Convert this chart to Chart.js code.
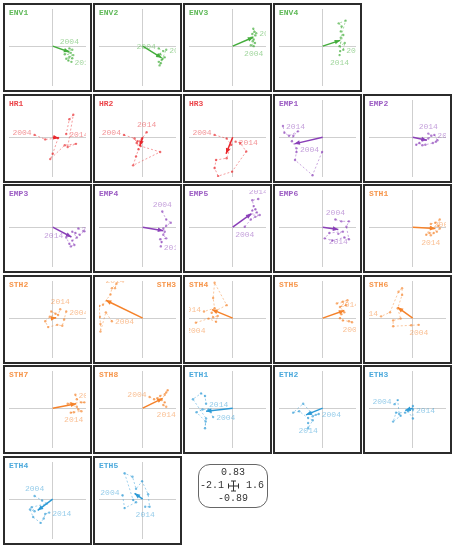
<!DOCTYPE html>
<html>
<head>
<meta charset="utf-8">
<script src="https://cdn.jsdelivr.net/npm/chart.js@4.4.0/dist/chart.umd.min.js"></script>
<style>
  body { margin: 0; background: #fff; width: 456px; height: 550px; position: relative; overflow: hidden; }
  .panel { position: absolute; width: 85px; height: 85px; border: 2px solid #2b2b2b; }
  .panel canvas { position: absolute; left: 0; top: 0; }
  .panel .name { position: absolute; top: 3px; left: 4px; font: bold 8px "Liberation Mono", monospace; }
  .panel .name.right { left: auto; right: 4px; }
  #key { position: absolute; left: 198px; top: 464px; width: 68px; height: 42px; border: 1px solid #666;
         border-radius: 12px; font: 10px "Liberation Mono", monospace; color: #333; }
  #key div { position: absolute; white-space: nowrap; }
</style>
</head>
<body>
<div id="grid"></div>
<div id="key">
  <div style="left:0;right:0;top:2px;text-align:center">0.83</div>
  <div style="left:1px;top:15px">-2.1</div>
  <div style="right:3px;top:15px">1.6</div>
  <div style="left:0;right:0;top:28px;text-align:center">-0.89</div>
  <svg style="position:absolute;left:29px;top:15px" width="11" height="12" viewBox="0 0 11 12">
    <path d="M0.5 3.5v5M10.5 3.5v5M0.5 6h10M5.5 1v10M3 1h5M3 11h5" stroke="#333" stroke-width="1" fill="none"/>
  </svg>
</div>
<script>
// axis range (from the key box)
const xMin = -2.1, xMax = 1.6, yMin = -0.89, yMax = 0.83;
const years = ['2004', '2014'];

const names = ['ENV1','ENV2','ENV3','ENV4',null,
  'HR1','HR2','HR3','EMP1','EMP2',
  'EMP3','EMP4','EMP5','EMP6','STH1',
  'STH2','STH3','STH4','STH5','STH6',
  'STH7','STH8','ETH1','ETH2','ETH3',
  'ETH4','ETH5'];

const colors = { ENV: '#44ad3c', HR: '#e8262b', EMP: '#8a3fb8', STH: '#f5822a', ETH: '#2c9ad6' };

// yearly positions 2004..2014
const xs = {
  ENV1: [0.80,0.94,0.72,0.87,0.58,0.99,0.80,0.65,0.94,0.75,0.90],
  ENV2: [0.77,0.99,0.70,0.84,1.06,0.96,0.91,0.77,0.87,0.81,1.13],
  ENV3: [1.01,0.87,1.07,0.96,1.01,0.90,1.09,0.94,1.04,0.99,1.13],
  ENV4: [0.99,1.06,0.81,0.99,0.87,0.91,0.77,1.10,0.87,0.84,0.81],
  HR1:  [-0.87,-0.36,0.26,0.00,-0.12,0.58,1.12,0.72,0.99,0.80,0.65],
  HR2:  [-0.90,-0.39,-0.29,-0.10,0.84,-0.46,-0.32,-0.20,-0.25,-0.03,0.19],
  HR3:  [-0.87,-0.29,-0.07,-0.29,-0.80,-0.87,-0.70,-0.03,0.65,0.36,0.14],
  EMP1: [-0.03,-0.49,-1.33,-1.26,-1.26,-1.48,-1.41,-1.19,-1.62,-1.84,-1.91],
  EMP2: [1.04,1.19,1.12,0.97,0.61,0.46,0.32,0.17,0.75,0.90,0.75],
  EMP3: [1.23,1.52,1.30,1.09,0.94,1.16,0.94,1.04,0.87,0.80,0.65],
  EMP4: [0.94,1.13,1.35,1.13,0.99,1.06,0.99,1.13,0.84,0.91,0.87],
  EMP5: [0.58,0.87,1.09,1.30,0.80,1.16,1.09,0.94,1.01,0.94,1.23],
  EMP6: [0.61,0.90,1.26,1.14,1.26,1.04,0.46,0.10,0.32,0.97,0.75],
  STH1: [0.87,1.09,1.30,1.23,1.30,1.16,0.87,0.65,0.80,1.01,0.87],
  STH2: [0.65,0.55,0.46,0.22,-0.22,-0.36,-0.14,0.14,-0.07,0.26,0.36],
  STH3: [-1.48,-1.77,-2.03,-2.03,-2.06,-2.09,-1.91,-1.55,-1.48,-1.26,-1.33],
  STH4: [-1.77,-1.16,-0.80,-0.72,-0.94,-1.01,-0.29,-0.87,-0.94,-0.87,-1.38],
  STH5: [1.41,1.26,0.97,0.83,0.90,1.04,0.83,1.12,1.19,0.97,0.68],
  STH6: [0.29,-0.07,-0.94,-0.94,-0.58,-0.72,-0.51,-0.51,-0.68,-1.09,-1.52],
  STH7: [1.09,1.16,1.38,1.52,0.87,0.72,1.16,1.23,1.38,0.87,1.01],
  STH8: [0.33,0.55,0.70,0.84,1.13,1.20,1.06,0.91,1.06,0.99,1.13],
  ETH1: [-0.94,-1.16,-1.45,-1.74,-1.30,-1.33,-1.28,-1.91,-1.52,-1.33,-1.28],
  ETH2: [-0.19,-0.33,-0.48,-0.55,-0.94,-1.42,-1.13,-0.70,-0.48,-0.70,-0.70],
  ETH3: [-0.87,-0.72,-0.65,-0.58,-0.94,-0.80,-0.36,-0.22,0.01,0.01,0.01],
  ETH4: [-0.87,-0.51,-0.29,-1.01,-0.87,-1.09,-0.94,-0.58,-0.43,-0.36,-0.17],
  ETH5: [-0.97,-0.87,-0.32,-0.46,-0.87,-0.49,-0.32,-0.03,0.26,0.33,0.12]
};
const ys = {
  ENV1: [-0.05,-0.08,-0.11,-0.15,-0.18,-0.20,-0.24,-0.28,-0.27,-0.32,-0.35],
  ENV2: [-0.05,-0.11,-0.21,-0.18,-0.25,-0.28,-0.31,-0.35,-0.38,-0.43,-0.08],
  ENV3: [0.00,0.02,0.07,0.11,0.15,0.19,0.24,0.27,0.32,0.39,0.29],
  ENV4: [-0.08,0.07,0.00,0.25,0.33,0.44,0.51,0.57,0.19,-0.11,-0.20],
  HR1:  [0.05,-0.05,-0.02,-0.37,-0.49,-0.18,-0.15,-0.22,0.50,0.40,0.07],
  HR2:  [0.05,-0.03,-0.13,-0.20,-0.33,-0.63,-0.43,-0.27,-0.09,-0.03,0.11],
  HR3:  [0.05,-0.03,-0.17,-0.47,-0.51,-0.69,-0.87,-0.77,-0.32,-0.13,-0.10],
  EMP1: [-0.33,-0.85,-0.51,-0.33,-0.25,-0.09,0.03,0.13,0.03,0.10,0.25],
  EMP2: [0.05,-0.07,-0.10,-0.13,-0.17,-0.18,-0.13,-0.17,-0.03,0.03,0.08],
  EMP3: [-0.03,-0.09,-0.17,-0.13,-0.10,-0.23,-0.30,-0.40,-0.43,-0.37,-0.23],
  EMP4: [0.35,0.17,0.10,0.03,-0.03,-0.10,-0.17,-0.25,-0.27,-0.33,-0.43],
  EMP5: [0.01,0.17,0.23,0.27,0.27,0.33,0.40,0.37,0.47,0.60,0.63],
  EMP6: [0.17,0.13,0.13,0.01,-0.27,-0.23,-0.30,-0.25,-0.13,-0.10,-0.15],
  STH1: [0.07,0.10,0.17,0.03,-0.03,-0.10,0.00,-0.17,-0.13,-0.13,-0.18],
  STH2: [0.15,-0.03,-0.17,-0.15,-0.20,-0.07,0.03,0.10,0.15,0.07,0.20],
  STH3: [-0.07,0.13,-0.30,-0.13,0.03,0.27,0.30,0.53,0.67,0.77,0.67],
  STH4: [-0.10,-0.01,-0.08,0.05,0.02,0.12,0.29,0.79,0.45,0.22,0.15],
  STH5: [-0.09,-0.07,-0.05,0.00,0.09,0.13,0.25,0.29,0.40,0.37,0.33],
  STH6: [-0.15,-0.16,-0.18,-0.05,-0.01,0.22,0.52,0.67,0.59,0.13,0.04],
  STH7: [0.30,0.20,0.13,0.13,0.11,0.10,0.03,-0.03,-0.07,-0.10,-0.09],
  STH8: [0.25,0.20,0.22,0.27,0.35,0.40,0.30,0.18,0.13,0.07,0.03],
  ETH1: [-0.20,-0.03,-0.03,-0.09,-0.30,-0.45,-0.23,0.20,0.33,0.27,0.10],
  ETH2: [-0.13,-0.15,-0.18,-0.10,0.10,-0.10,-0.07,-0.22,-0.27,-0.45,-0.33],
  ETH3: [0.09,0.18,-0.13,-0.17,-0.30,-0.10,-0.10,-0.07,-0.23,0.05,-0.03],
  ETH4: [0.07,-0.03,-0.10,-0.18,-0.27,-0.23,-0.40,-0.53,-0.43,-0.33,-0.30],
  ETH5: [0.09,-0.20,-0.07,-0.02,0.58,0.50,0.23,0.40,0.11,-0.17,-0.17]
};

// arrow end (origin -> this point)
const arrowX = { ENV1:0.80, ENV2:0.91, ENV3:0.99, ENV4:0.84, HR1:0.29, HR2:-0.14, HR3:-0.32, EMP1:-1.36,
  EMP2:0.68, EMP3:0.90, EMP4:0.99, EMP5:0.90, EMP6:0.75, STH1:1.09, STH2:0.17, STH3:-1.77, STH4:-0.99,
  STH5:1.04, STH6:-0.72, STH7:1.13, STH8:0.96, ETH1:-1.28, ETH2:-0.80, ETH3:-0.36, ETH4:-0.72, ETH5:-0.39 };
const arrowY = { ENV1:-0.13, ENV2:-0.26, ENV3:0.20, ENV4:0.13, HR1:-0.02, HR2:-0.20, HR3:-0.37, EMP1:-0.15,
  EMP2:-0.07, EMP3:-0.22, EMP4:-0.08, EMP5:0.30, EMP6:-0.05, STH1:-0.03, STH2:0.01, STH3:0.40, STH4:0.19,
  STH5:0.17, STH6:0.24, STH7:0.10, STH8:0.22, ETH1:-0.07, ETH2:-0.15, ETH3:-0.05, ETH4:-0.25, ETH5:0.13 };

// where the 2004 / 2014 text sits next to its point: l r a b
const yearPos = { ENV1:'ar', ENV2:'lr', ENV3:'br', ENV4:'rb', HR1:'lr', HR2:'la', HR3:'lr', EMP1:'lr',
  EMP2:'ra', EMP3:'rl', EMP4:'ar', EMP5:'ba', EMP6:'ab', STH1:'rb', STH2:'ra', STH3:'ra', STH4:'bl',
  STH5:'br', STH6:'bl', STH7:'rb', STH8:'lb', ETH1:'rr', ETH2:'rb', ETH3:'lr', ETH4:'ar', ETH5:'lb' };

function fade(hex, a) {
  const n = parseInt(hex.slice(1), 16);
  return `rgba(${n >> 16},${(n >> 8) & 255},${n & 255},${a})`;
}

const extras = {
  id: 'extras',
  afterDatasetsDraw(chart, args, opts) {
    const { ctx, chartArea: a, scales: { x, y } } = chart;
    ctx.save();
    ctx.beginPath();
    ctx.rect(a.left, a.top, a.right - a.left, a.bottom - a.top);
    ctx.clip();

    // arrow head
    const end = chart.data.datasets[1].data[1];
    const x0 = x.getPixelForValue(0), y0 = y.getPixelForValue(0);
    const x1 = x.getPixelForValue(end.x), y1 = y.getPixelForValue(end.y);
    const ang = Math.atan2(y1 - y0, x1 - x0);
    ctx.fillStyle = opts.color;
    ctx.beginPath();
    ctx.moveTo(x1, y1);
    ctx.lineTo(x1 - 5.5 * Math.cos(ang) + 2.3 * Math.sin(ang), y1 - 5.5 * Math.sin(ang) - 2.3 * Math.cos(ang));
    ctx.lineTo(x1 - 5.5 * Math.cos(ang) - 2.3 * Math.sin(ang), y1 - 5.5 * Math.sin(ang) + 2.3 * Math.cos(ang));
    ctx.closePath();
    ctx.fill();

    // year labels
    const pts = chart.data.datasets[0].data;
    ctx.font = '8px "Liberation Mono", monospace';
    ctx.fillStyle = fade(opts.color, 0.5);
    [0, pts.length - 1].forEach((k, j) => {
      const px = x.getPixelForValue(pts[k].x), py = y.getPixelForValue(pts[k].y);
      const p = opts.pos[j];
      ctx.textBaseline = 'middle';
      if (p === 'l') { ctx.textAlign = 'right'; ctx.fillText(years[j], px - 3, py - 2); }
      else if (p === 'r') { ctx.textAlign = 'left'; ctx.fillText(years[j], px + 3, py + 1); }
      else if (p === 'a') { ctx.textAlign = 'center'; ctx.fillText(years[j], px, py - 7); }
      else { ctx.textAlign = 'center'; ctx.fillText(years[j], px, py + 8); }
    });
    ctx.restore();
  }
};

const axis = (min, max) => ({
  type: 'linear', min, max,
  afterBuildTicks: s => { s.ticks = [{ value: 0 }]; },
  ticks: { display: false },
  grid: { color: '#cfcfcf', lineWidth: 1, drawTicks: false },
  border: { display: false }
});

const grid = document.getElementById('grid');
names.forEach((name, i) => {
  if (!name) return;
  const col = i % 5, row = Math.floor(i / 5);
  const color = colors[name.replace(/\d/g, '')];
  const box = document.createElement('div');
  box.className = 'panel';
  box.style.left = (3 + col * 90) + 'px';
  box.style.top = Math.round(3 + row * 90.6) + 'px';
  const cv = document.createElement('canvas');
  cv.width = 85; cv.height = 85;
  box.appendChild(cv);
  const lbl = document.createElement('div');
  lbl.className = 'name' + (name === 'STH3' ? ' right' : '');
  lbl.style.color = fade(color, 0.85);
  lbl.textContent = name;
  box.appendChild(lbl);
  grid.appendChild(box);

  new Chart(cv.getContext('2d'), {
    type: 'scatter',
    data: {
      datasets: [{
        data: xs[name].map((v, k) => ({ x: v, y: ys[name][k] })),
        showLine: true,
        borderColor: fade(color, 0.45),
        borderWidth: 1,
        borderDash: [2, 2],
        pointRadius: 1.2,
        pointBackgroundColor: fade(color, 0.65),
        pointBorderWidth: 0
      }, {
        data: [{ x: 0, y: 0 }, { x: arrowX[name], y: arrowY[name] }],
        showLine: true,
        borderColor: color,
        borderWidth: 1.5,
        pointRadius: 0
      }]
    },
    options: {
      responsive: false,
      animation: false,
      devicePixelRatio: 1,
      layout: { padding: 0 },
      plugins: { legend: { display: false }, tooltip: { enabled: false },
        extras: { color, pos: yearPos[name] } },
      scales: { x: axis(xMin, xMax), y: axis(yMin, yMax) }
    },
    plugins: [extras]
  });
});
</script>
</body>
</html>
